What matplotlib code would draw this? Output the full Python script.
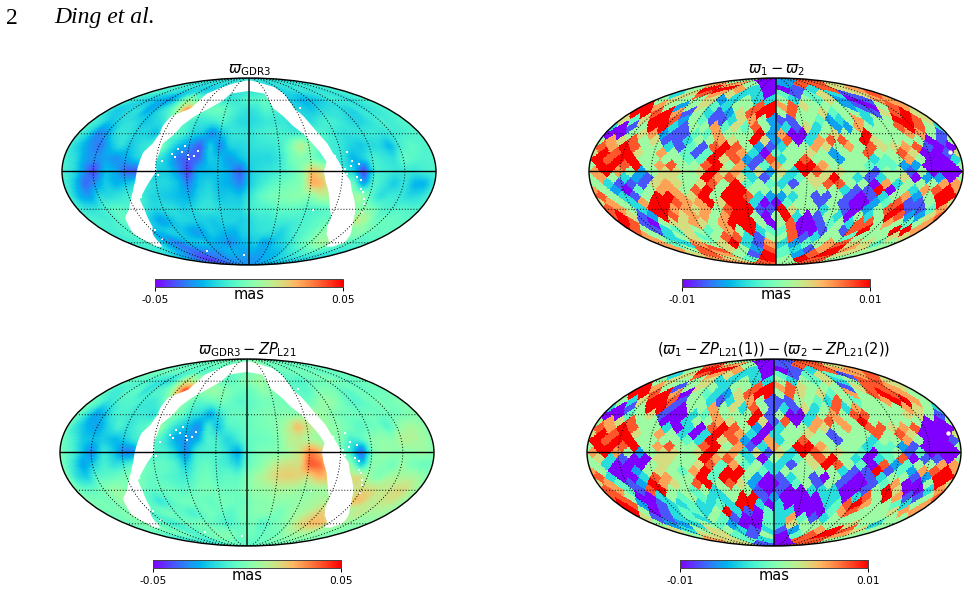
import numpy as np
import matplotlib
matplotlib.use("Agg")
import matplotlib.pyplot as plt

W, H = 970, 591
NSIDE = 8

# Sky map of the parallax, sampled every 10 deg (units of 0.001 mas).
# Rows run from lat +90 to -90, columns from lon -180 to +180.
LAT_FINE = list(range(90, -91, -10))
LON_FINE = list(range(-180, 181, 10))

parallax_gdr3 = [
    [-15]*37,
    [-12,-13,-14,-15,-15,-16,-16,-16,-16, -16,-16,-16,-16,-16,-16,-16,-16,-16, -16, -15,-15,-15,-15,-15,-15,-15,-15,-15, -15,-15,-15,-14,-14,-14,-13,-13,-12],
    [-8,-9,-10,-11,-13,-15,-17,-19,-20, -22,-22,-20,-20,-18,-16,-15,-15,-15, -15, -15,-15,-15,-18,-30,-20,-17,-16,-15, -14,-14,-14,-15,-15,-14,-13,-12,-10],
    [-10,-14,-18,-22,-24,-26,-30,-22,-5, 8,-5,-2,0,-6,-14,-14,-14,-10, -8, -8,-5,-6,-8,-14,-20,-22,-26,-24, -22,-20,-14,-12,-14,-18,-14,-12,-8],
    [-14,-22,-20,-16,-16,-28,-22,-14,-8, 12,38,8,-6,-4,-2,-6,-10,-14, -16, -14,-8,-10,-12,-18,-18,-20,-22,-18, -16,-14,-18,-20,-14,-16,-14,-12,-10],
    [-10,-14,-22,-18,-16,-16,-22,-20,-16, -8,-4,-10,-14,-14,-12,-8,-14,-18, -18, -16,-14,-14,-14,-18,-16,-18,-12,-10, -12,-16,-20,-18,-14,-10,-12,-10,-8],
    [-10,-18,-34,-28,-14,-14,-18,-18,-24, -14,-6,-10,-18,-20,-34,-22,-14,-14, -15, -12,-10,-10,-12,-14,-10,-8,-10,-14, -16,-14,-14,-12,-14,-14,-12,-10,-8],
    [-14,-22,-30,-36,-24,-14,-22,-16,-12, 5,-14,-24,-30,-40,-18,-34,-18,-18, -16, -14,-14,-12,-2,14,2,-8,-12,-14, -18,-22,-18,-18,-26,-12,-6,-8,-10],
    [-12,-16,-28,-30,-28,-32,-26,-18,-16, -14,-22,-36,-38,-38,-20,-22,-30,-22, -18, -18,-18,-14,-2,0,-4,-8,-12,-14, -26,-18,-10,-14,-16,-4,-8,-10,-8],
    [-10,-16,-30,-44,-22,-26,-38,-40,-26, -20,-20,-28,-44,-24,-24,-22,-26,-40, -20, -16,-14,-12,-6,2,25,15,-10,-15, -20,-46,-10,-12,-14,-14,-14,-10,-10],
    [-10,-22,-38,-30,-20,-26,-22,-16,-14, -18,-18,-22,-34,-22,-18,-24,-26,-34, -20, -14,-8,-4,-2,0,28,25,8,0, -2,-30,-8,-14,-22,-14,-26,-26,-12],
    [-12,-26,-30,-16,-18,-14,-10,-10,-18, -20,-22,-24,-26,-18,-16,-22,-20,-22, -14, -6,-2,0,2,3,0,10,10,5, 6,10,-8,-18,-12,-14,-18,-16,-10],
    [-12,-16,-14,-10,-6,-8,-12,-14,-18, -16,-16,-20,-18,-14,-14,-18,-18,-18, -12, -10,-10,-6,-6,-6,-10,-10,-8,-6, -4,0,2,-2,-10,-10,-8,-10,-10],
    [-10,-10,-12,-10,-4,-8,-14,-22,-30, -24,-18,-18,-20,-20,-22,-18,-18,-20, -18, -14,-14,-12,-12,-12,-10,-8,-6,-4, -4,0,15,10,-4,-4,-4,-6,-6],
    [-12,-12,-10,-8,-10,-18,-26,-22,-18, -20,-24,-30,-28,-20,-22,-24,-26,-20, -18, -16,-14,-16,-20,-14,-10,-8,-4,2, 4,-2,-2,0,5,-4,-6,-4,-6],
    [-12,-12,-10,-10,-10,-22,-26,-34,-30, -22,-22,-20,-24,-26,-28,-32,-28,-24, -22, -20,-28,-26,-20,-18,-14,-8,-4,0, 6,10,5,-2,-6,-8,-8,-8,-8],
    [-12,-12,-14,-18,-22,-26,-30,-34,-38, -34,-32,-32,-30,-28,-24,-24,-26,-28, -26, -26,-28,-26,-24,-24,-20,-16,-14,-12, -10,-8,-8,-10,-12,-14,-14,-14,-14],
    [-24,-26,-28,-32,-36,-40,-44,-44,-42, -38,-36,-34,-32,-30,-30,-30,-30,-30, -30, -30,-30,-28,-26,-26,-24,-22,-20,-20, -18,-18,-18,-18,-18,-18,-18,-18,-18],
    [-30]*37,
]

# Broad-scale comparison of the raw and corrected maps at 15 deg, from which
# the L21 zero-point field is taken.
LAT_COARSE = [90, 75, 60, 45, 30, 15, 0, -15, -30, -45, -60, -75, -90]
LON_COARSE = list(range(-180, 181, 15))

coarse_raw = [
    [-15]*25,
    [-12,-12,-13,-15,-15,-16,-18,-18,-15,-15,-15,-15,-15,-20,-25,-20,-15,-15,-13,-12,-12,-12,-12,-12,-12],
    [-8,-15,-22,-25,-28,-15,-5,-8,-10,-12,-10,-8,-8,-10,-8,-12,-15,-18,-22,-22,-18,-15,-14,-12,-8],
    [-12,-18,-18,-22,-28,-10,5,25,-10,-8,-5,-12,-16,-15,-12,-14,-16,-14,-20,-15,-12,-16,-13,-13,-10],
    [-14,-20,-32,-20,-18,-20,-12,-8,-12,-28,-20,-14,-14,-12,-10,-14,-12,-10,-14,-14,-14,-12,-15,-12,-10],
    [-12,-22,-35,-22,-30,-22,-15,-30,-38,-40,-35,-18,-15,-15,-18,8,5,-10,-15,-22,-20,-22,-15,-10,-5],
    [-12,-18,-42,-25,-32,-35,-20,-22,-38,-22,-25,-32,-18,-18,-12,-2,25,5,-15,-28,-8,-12,-14,-14,-10],
    [-12,-30,-18,-20,-14,-12,-20,-22,-30,-18,-22,-28,-18,-5,0,2,0,15,5,0,-10,-14,-14,-22,-14],
    [-12,-16,-14,-5,-10,-15,-16,-18,-18,-16,-16,-18,-12,-10,-8,-5,-8,-10,-8,-5,3,-8,-10,-8,-10],
    [-12,-12,-10,-8,-18,-25,-18,-22,-30,-22,-24,-20,-18,-16,-14,-14,-10,-6,2,-2,3,15,-2,0,-3],
    [-12,-12,-10,-10,-24,-30,-22,-22,-24,-26,-28,-26,-22,-20,-22,-18,-14,-8,0,10,5,-5,-8,-8,-8],
    [-12,-12,-10,-25,-30,-34,-34,-38,-40,-35,-30,-28,-30,-28,-25,-22,-18,-16,-14,-14,-14,-14,-14,-14,-14],
    [-28]*25,
]

coarse_corrected = [
    [-2]*25,
    [-6,-6,-6,-6,-5,-5,-5,-4,-4,-3,-3,-2,-2,-2,-2,-2,-2,-2,-3,-3,-3,-3,-4,-4,-5],
    [-2,-6,-10,-14,-15,-8,5,2,0,-2,-2,0,2,2,0,-1,-2,-3,-4,-4,-3,-3,-3,-3,-2],
    [-4,-10,-10,-12,-16,-6,15,38,-3,0,2,-3,-5,-3,0,-2,-4,-2,-2,0,-2,-4,-3,-3,-2],
    [-8,-18,-26,-18,-14,-14,-5,0,-8,-25,-14,-4,-4,-2,0,0,5,6,0,-3,-3,-3,-5,-4,3],
    [-6,-18,-28,-16,-22,-16,-8,-25,-30,-32,-24,-8,-3,-2,-2,20,15,6,2,-3,-8,-2,0,8,8],
    [-6,-10,-32,-16,-30,-28,-10,-12,-28,-8,-12,-22,-5,-3,0,12,35,12,-2,-30,3,6,2,4,2],
    [-4,-22,-8,-10,-2,0,-6,-8,-16,-4,-8,-12,-2,8,22,22,14,30,14,10,0,2,6,6,-2],
    [-3,-6,-4,8,-2,-4,-4,-6,-6,-4,-2,-4,2,5,6,8,5,5,4,6,20,14,16,20,6],
    [-2,-2,-2,0,-4,-8,-4,-6,-10,-5,-6,-4,-2,0,2,2,5,8,18,10,8,22,12,14,8],
    [-4,-3,2,2,-6,-10,-4,-4,-4,-6,-8,-6,-3,-2,-3,0,4,15,25,28,15,6,4,2,2],
    [-3,-3,0,2,3,-2,-3,-5,-6,-5,-5,-4,-4,-3,-2,0,2,3,3,3,3,3,3,3,3],
    [-5]*25,
]

# Unobserved zone along the galactic plane: one ring of lat/lon per arm edge.
band_lat = [67, 60, 52, 45, 37, 30, 22, 15, 7.5, 0, -7.5, -15, -22, -30, -37, -45, -52, -60, -64]
band_left_outer = [-73, -73, -76, -93, -95, -94, -97, -104, -106, -108, -110, -114, -119, -126, -137, -143, -149, -148, -150]
band_left_inner = [-32, -38, -52, -65, -74, -78, -87, -88, -90, -89, -96, -103, -110, -110, -112, -115, -125, -133, -140]
band_right_inner = [27, 29, 32, 41, 48, 57, 64, 70, 75, 72, 74, 78, 81, 85, 91, 93, 101, 119, 125]
band_right_outer = [61, 59, 59, 65, 69, 73, 79, 82, 87, 91, 98, 101, 106, 112, 116, 123, 132, 141, 135]
band_cap_lat = [75, 80, 84, 84, 80, 75]
band_cap_lon = [-59, -42, -12, 12, 35, 56]

# Isolated empty pixels around the zone and inside the parallax maps.
speck_lon = [-78, -11, 68, 108, 104, 112, 98, -66, -60, -54, -50, -70, -76, -72, -58, -64,
             -85, -83, -80, -74, -68, -62, -56, 96, 100, 94, 92, 110, 116, 118, 120, -96, -92, -100,
             -105, -108, -88, -84, 62, 58, 78, 84, 90, 106, 115, -120, -116, 66]
speck_lat = [-69, -73, -31, -7, -4, -16, 4, 15, 13, 12, 16, 18, 14, 11, 10, 20,
             26, 33, 40, 46, 50, 57, 62, 15, 8, -2, 2, -14, -22, -26, -32, 13, 24, 4,
             -12, -20, -3, 8, 36, 44, 22, 12, -12, 6, -40, -56, -48, 52]

# Binned differences on HEALPix rings (nside 8), level 0 to 9 across the colour range.
diff_rings = [
    [5,0,2,8],
    [7,7,5,0,2,8,8,6],
    [5,9,9,7,3,0,0,1,3,8,6,7],
    [3,6,8,7,6,3,3,0,4,1,4,6,3,1,6,8],
    [5,6,5,5,6,2,3,5,3,3,5,3,5,4,6,2,0,1,7,7],
    [9,7,5,2,5,6,4,3,5,5,8,9,7,8,6,5,5,5,2,1,0,5,8,7],
    [9,9,8,9,7,1,5,3,1,2,6,8,9,9,5,8,5,5,6,4,5,5,3,1,6,8,9,6],
    [6,4,6,9,9,8,2,5,4,1,1,3,6,7,5,2,1,1,5,5,4,2,3,5,7,3,5,5,9,9,8,6],
    [3,0,1,5,9,9,3,1,5,5,7,4,6,4,8,5,2,3,1,6,3,5,2,2,7,5,5,5,8,9,8,5],
    [0,0,5,6,7,2,1,1,4,4,7,5,5,5,9,2,7,0,0,3,5,6,5,5,9,5,5,5,7,7,5,1],
    [5,7,6,8,5,6,1,1,3,5,5,7,6,5,9,6,2,8,0,3,7,8,8,5,9,6,5,5,5,5,0,1],
    [8,7,9,8,5,5,3,1,4,1,8,9,8,5,2,1,3,5,5,7,6,5,7,5,8,6,6,7,8,1,0,0],
    [6,9,8,9,6,5,7,5,4,1,4,9,8,7,3,0,4,5,5,6,5,2,5,5,8,5,5,8,6,0,0,1],
    [9,8,9,9,5,5,5,5,4,4,9,6,8,2,1,8,3,5,8,5,5,2,5,5,3,4,5,7,5,0,0,3],
    [5,9,9,8,9,5,7,8,5,5,8,9,5,7,1,4,7,5,9,9,7,5,5,5,4,4,4,2,2,0,0,0],
    [7,9,7,5,2,5,6,6,5,6,9,6,7,3,6,2,6,3,9,8,6,6,5,5,1,5,5,1,5,0,0,0],
    [5,7,5,3,2,1,6,6,5,5,9,7,8,6,3,1,5,3,4,6,6,9,5,3,1,3,5,6,0,2,2,0],
    [5,3,1,1,1,6,7,6,5,6,8,5,9,4,5,4,3,1,5,6,8,8,5,5,0,7,3,5,5,5,7,7],
    [7,5,2,0,4,5,7,7,5,8,9,5,9,9,5,5,5,5,5,5,5,5,3,1,1,9,0,5,3,7,8,9],
    [8,5,3,1,5,9,9,7,6,9,5,9,9,8,3,2,2,3,5,1,1,5,1,0,1,3,5,7,2,5,9,9],
    [6,7,5,3,7,9,9,8,7,7,9,6,9,9,3,0,0,4,5,5,1,5,1,0,0,2,4,8,1,1,5,9],
    [8,7,5,3,9,9,7,7,6,7,5,8,9,9,1,1,9,6,5,5,3,5,1,0,2,5,8,9,1,1,4,7],
    [8,9,6,1,2,9,8,6,7,7,5,7,9,9,5,0,5,9,3,0,1,5,3,0,5,3,5,9,8,2,2,6],
    [9,8,1,0,5,6,6,7,6,5,7,9,9,9,5,0,5,8,0,0,1,4,5,3,8,8,5,7,5,4,5,7],
    [8,5,1,3,4,6,5,4,5,7,5,9,3,4,4,8,0,0,1,5,1,8,9,5,5,9,9,7],
    [7,5,3,5,6,4,5,8,8,3,1,5,5,8,1,3,5,5,4,5,5,5,6,6],
    [7,4,3,7,5,6,9,3,1,7,3,2,4,5,7,8,6,6,4,5],
    [7,5,8,8,6,5,2,8,4,3,1,7,9,7,6,5],
    [6,8,7,5,1,9,4,2,8,9,6,5],
    [7,6,4,9,5,9,8,5],
    [7,8,5,8],
]

diff_rings_corrected = [
    [5,0,1,8],
    [8,7,5,0,1,8,8,6],
    [5,9,9,7,3,0,0,1,3,8,7,7],
    [3,6,8,7,6,3,3,0,4,1,4,6,4,1,7,8],
    [5,6,5,5,6,3,3,5,3,3,5,3,5,4,6,3,5,8,8,6],
    [9,7,5,1,5,6,5,3,5,5,8,9,7,8,6,5,5,5,1,6,8,8,7,6],
    [9,9,8,9,7,0,5,4,3,2,6,8,9,9,5,8,6,5,6,4,5,7,5,8,9,8,7,5],
    [5,3,6,9,9,8,1,5,5,3,1,3,6,7,5,1,1,1,5,5,4,3,8,5,4,5,5,7,9,9,7,5],
    [3,0,1,5,9,9,1,0,5,5,7,5,6,3,8,5,1,3,1,6,3,5,8,3,7,5,5,5,5,7,6,5],
    [0,0,4,5,6,1,0,0,3,4,7,5,5,5,9,1,5,0,0,3,5,7,5,8,8,5,5,5,6,6,5,1],
    [5,7,6,8,5,5,0,0,3,5,5,7,6,5,9,6,1,8,0,3,7,8,7,5,9,5,5,5,5,5,0,0],
    [8,7,9,8,5,5,3,0,3,0,8,9,8,5,2,0,3,5,5,7,6,5,7,5,8,8,6,7,8,0,0,0],
    [6,9,8,9,6,5,7,5,3,0,3,9,8,7,3,0,3,5,5,6,5,1,5,5,5,8,5,8,6,0,0,0],
    [9,8,9,9,5,5,5,5,4,3,9,6,8,2,0,7,3,5,8,5,5,1,5,5,3,5,5,7,5,0,0,1],
    [5,9,9,8,9,5,7,8,5,5,8,9,5,7,1,3,7,5,9,9,7,5,5,5,3,4,4,2,1,0,0,0],
    [7,9,7,5,2,5,6,6,5,6,9,6,7,3,6,1,6,3,9,8,6,6,5,4,0,4,5,1,4,0,0,0],
    [5,6,3,1,0,0,6,6,5,5,9,7,8,5,3,0,5,3,4,6,8,9,5,3,0,3,4,8,0,1,1,0],
    [5,3,0,0,0,5,6,5,5,6,8,4,7,4,5,3,3,1,5,6,9,8,5,4,0,8,2,4,5,5,7,7],
    [7,5,0,0,2,5,6,5,4,7,9,4,9,9,5,4,3,5,5,5,5,5,3,1,1,9,1,4,2,7,8,9],
    [8,3,0,0,3,8,7,5,5,9,4,9,9,5,2,0,1,3,5,1,0,5,1,0,1,3,5,5,1,2,9,9],
    [6,7,4,1,2,9,7,6,5,8,9,5,8,6,2,0,0,1,4,5,1,5,1,0,0,1,4,7,0,0,5,9],
    [8,7,4,1,8,9,5,5,4,5,3,5,5,5,1,0,1,0,0,3,3,3,0,0,1,5,9,6,0,0,3,7],
    [8,8,5,0,0,3,5,4,5,4,3,3,5,9,9,1,2,0,0,0,0,3,3,0,3,8,5,9,7,1,1,5],
    [9,8,2,0,1,3,3,4,3,3,4,3,9,9,3,0,3,0,0,0,0,3,4,8,9,7,5,5,4,3,5,7],
    [9,5,0,1,3,4,4,3,5,9,3,1,0,4,3,3,0,0,0,4,7,8,5,5,5,6,7,7],
    [6,1,1,3,4,3,5,4,1,0,0,4,3,7,4,1,3,5,5,5,5,5,5,5],
    [5,2,2,3,5,4,2,0,0,4,3,6,5,5,5,5,6,5,3,5],
    [6,3,5,6,5,3,1,3,1,2,5,7,9,8,6,5],
    [5,6,6,4,1,5,0,4,8,9,7,5],
    [7,6,4,3,0,8,8,5],
    [6,1,0,8],
]
# Single unobserved HEALPix pixel on the two difference maps.
diff_speck_lon = [171]
diff_speck_lat = [15]


def healpix_ring_lookup(lon_deg, lat_deg):
    """Return ring number (1..4*nside-1) and left-to-right cell index for each sky position."""
    ns = NSIDE
    z = np.sin(np.radians(lat_deg))
    za = np.abs(z)
    tt = np.mod(np.radians(lon_deg) / (np.pi / 2), 4.0)
    ring = np.zeros(z.shape, dtype=int)
    cell = np.zeros(z.shape, dtype=int)

    eq = za <= 2 / 3
    t1 = ns * (0.5 + tt[eq])
    t2 = ns * z[eq] * 0.75
    jp = np.floor(t1 - t2).astype(int)
    jm = np.floor(t1 + t2).astype(int)
    ir = ns + 1 + jp - jm
    ring_eq = ir + ns - 1
    kshift = 1 - (ir & 1)
    ip = ((jp + jm - ns + kshift + 1) // 2) % (4 * ns)
    ring[eq] = ring_eq
    cell[eq] = (ip + 2 * ns) % (4 * ns)

    pol = ~eq
    tp = tt[pol] - np.floor(tt[pol])
    tmp = ns * np.sqrt(3 * (1 - za[pol]))
    jp = np.floor(tp * tmp).astype(int)
    jm = np.floor((1 - tp) * tmp).astype(int)
    ir = np.maximum(jp + jm + 1, 1)
    n = 4 * ir
    ip = np.floor(tt[pol] * ir).astype(int) % n
    north = z[pol] > 0
    ring[pol] = np.where(north, ir, 4 * ns - ir)
    cell[pol] = (ip + n // 2) % n
    return ring, cell


def healpix_levels(rings, lon_deg, lat_deg):
    ring, cell = healpix_ring_lookup(lon_deg, lat_deg)
    out = np.zeros(ring.shape)
    for r, row in enumerate(rings, start=1):
        sel = ring == r
        out[sel] = np.asarray(row, dtype=float)[cell[sel] % len(row)]
    return out


def smooth_map(grid, lat_nodes, lon_nodes, window=4):
    """Resample a node table on a 1-deg mesh and apply a beam-like smoothing."""
    grid = np.asarray(grid, dtype=float)
    lat_n = np.asarray(lat_nodes, dtype=float)[::-1]
    lon_n = np.asarray(lon_nodes, dtype=float)
    lon_c = np.arange(-179.5, 180, 1.0)
    lat_c = np.arange(-89.75, 90, 0.5)
    by_lon = np.array([np.interp(lon_c, lon_n, row) for row in grid[::-1]])
    fine = np.array([np.interp(lat_c, lat_n, by_lon[:, j]) for j in range(lon_c.size)]).T
    kernel = np.ones(window) / window
    kern2 = np.ones(2 * window) / (2 * window)
    pad_x = window
    pad_y = 2 * window
    for _ in range(2):
        pad = np.concatenate([fine[:, -pad_x:], fine, fine[:, :pad_x]], axis=1)
        fine = np.apply_along_axis(lambda r: np.convolve(r, kernel, mode="same"), 1, pad)[:, pad_x:-pad_x]
        pad = np.concatenate([np.repeat(fine[:1], pad_y, 0), fine, np.repeat(fine[-1:], pad_y, 0)], axis=0)
        fine = np.apply_along_axis(lambda c: np.convolve(c, kern2, mode="same"), 0, pad)[pad_y:-pad_y]
    return fine


def sky_axes(left, top):
    ax = fig.add_axes([left / W, 1 - (top + 187) / H, 374 / W, 187 / H], projection="mollweide")
    ax.set_xticklabels([])
    ax.set_yticklabels([])
    ax.grid(False)
    ax.tick_params(length=0)
    for sp in ax.spines.values():
        sp.set_linewidth(1.0)
        sp.set_color("black")
    return ax


def graticule(ax):
    lat = np.radians(np.linspace(-89.9, 89.9, 181))
    lon = np.radians(np.linspace(-179.9, 179.9, 181))
    for m in range(-150, 151, 30):
        if m == 0:
            ax.plot(np.zeros_like(lat), lat, color="black", lw=1.0, zorder=6)
        else:
            ax.plot(np.full_like(lat, np.radians(m)), lat, color="black", lw=0.7, ls=(0, (1, 2)), zorder=6)
    for p in (-60, -30, 30, 60):
        ax.plot(lon, np.full_like(lon, np.radians(p)), color="black", lw=0.7, ls=(0, (1, 2)), zorder=6)
    ax.plot(lon, np.zeros_like(lon), color="black", lw=1.0, zorder=6)


def draw_band(ax):
    lat_path = list(band_lat[::-1]) + band_cap_lat + list(band_lat)
    lon_path = list(band_left_outer[::-1]) + band_cap_lon + list(band_right_outer)
    lat_path += list(band_lat[::-1]) + [70] + list(band_lat)
    lon_path += list(band_right_inner[::-1]) + [0] + list(band_left_inner)
    ax.fill(np.radians(lon_path), np.radians(lat_path), color="white", lw=0, zorder=3)
    ax.scatter(np.radians(speck_lon), np.radians(speck_lat), s=2.5, c="white", marker="s", lw=0, zorder=4)


def colour_bar(mesh, left, top, ticks, labels):
    cax = fig.add_axes([left / W, 1 - (top + 8) / H, 188 / W, 8 / H])
    cb = fig.colorbar(mesh, cax=cax, orientation="horizontal", ticks=ticks)
    cb.set_ticklabels(labels)
    cax.tick_params(length=3, width=0.7, labelsize=7.6, pad=2.5, color="black", labelcolor="black")
    cb.outline.set_linewidth(0.7)
    cb.outline.set_edgecolor("#444444")
    fig.text((left + 94) / W, 1 - (top + 15.5) / H, "mas", ha="center", va="center", fontsize=10.5)


plt.rcParams["mathtext.fontset"] = "dejavusans"
fig = plt.figure(figsize=(W / 100, H / 100), dpi=100, facecolor="white")

lon_edges = np.radians(np.arange(-180, 181, 1.0))
lat_edges = np.radians(np.arange(-90, 90.01, 0.5))
lon_centres = np.arange(-179.5, 180, 1.0)
lat_centres = np.arange(-89.75, 90, 0.5)
LON_G, LAT_G = np.meshgrid(lon_centres, lat_centres)

raw_map = smooth_map(parallax_gdr3, LAT_FINE, LON_FINE)
zero_point = smooth_map(np.subtract(coarse_raw, coarse_corrected), LAT_COARSE, LON_COARSE, window=9)
corrected_map = raw_map - zero_point

smooth_panels = [
    (62, 78, 155, 279, raw_map, r"$\varpi_{\rm GDR3}$"),
    (60, 359, 153, 560, corrected_map, r"$\varpi_{\rm GDR3} - ZP_{\rm L21}$"),
]
for left, top, cleft, ctop, field, title in smooth_panels:
    ax = sky_axes(left, top)
    mesh = ax.pcolormesh(lon_edges, lat_edges, field * 0.001, cmap="rainbow", vmin=-0.05, vmax=0.05,
                         shading="flat", antialiased=False, zorder=2)
    draw_band(ax)
    graticule(ax)
    ax.set_title(title, fontsize=10.5, pad=3)
    colour_bar(mesh, cleft, ctop, [-0.05, 0.05], ["-0.05", "0.05"])

ring_panels = [
    (589, 78, 682, 279, diff_rings, r"$\varpi_1 - \varpi_2$"),
    (587, 359, 680, 560, diff_rings_corrected,
     r"$(\varpi_1 - ZP_{\rm L21}(1)) - (\varpi_2 - ZP_{\rm L21}(2))$"),
]
for left, top, cleft, ctop, rings, title in ring_panels:
    ax = sky_axes(left, top)
    vals = (healpix_levels(rings, LON_G, LAT_G) - 4.5) / 4.5 * 0.01
    mesh = ax.pcolormesh(lon_edges, lat_edges, vals, cmap="rainbow", vmin=-0.01, vmax=0.01,
                         shading="flat", antialiased=False, zorder=2)
    ax.scatter(np.radians(diff_speck_lon), np.radians(diff_speck_lat), s=10, c="white", lw=0, zorder=4)
    graticule(ax)
    ax.set_title(title, fontsize=10.5, pad=3)
    colour_bar(mesh, cleft, ctop, [-0.01, 0.01], ["-0.01", "0.01"])

fig.text(6 / W, 1 - 18 / H, "2", family="Liberation Serif", fontsize=17, va="center")
fig.text(54 / W, 1 - 18 / H, "Ding et al.", family="Liberation Serif", style="italic", fontsize=17, va="center")

fig.savefig("out.png", dpi=100, facecolor="white")
